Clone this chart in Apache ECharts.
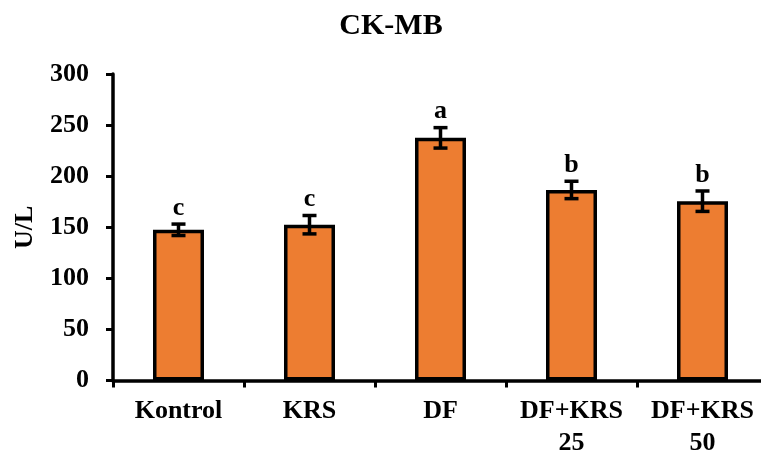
<!DOCTYPE html>
<html><head><meta charset="utf-8">
<script src="https://cdn.jsdelivr.net/npm/echarts@6/dist/echarts.min.js"></script>
<style>html,body{margin:0;padding:0;background:#fff;overflow:hidden}#c{width:770px;height:460px}</style>
</head><body><div id="c"></div>
<script>
var categories = ['Kontrol', 'KRS', 'DF', 'DF+KRS\n25', 'DF+KRS\n50'];
var means = [147.5, 152.5, 237.5, 186.5, 175.5];
var errors = [5.6, 9, 10, 8.5, 10];
var letters = ['c', 'c', 'a', 'b', 'b'];
var yTicks = [0, 50, 100, 150, 200, 250, 300];

var font = 'Liberation Serif';
var chart = echarts.init(document.getElementById('c'));
var errData = means.map(function (m, i) { return [i, m, errors[i]]; });
chart.setOption({
  animation: false,
  title: { text: 'CK-MB', left: 386, textAlign: 'center', top: 6,
    textStyle: { fontFamily: font, fontWeight: 'bold', fontSize: 30, color: '#000' } },
  grid: { left: 113, right: 2, top: 74, bottom: 79.5 },
  xAxis: {
    type: 'category', data: categories,
    axisLine: { lineStyle: { color: '#000', width: 3.5 } },
    axisTick: { show: true, length: 7, lineStyle: { color: '#000', width: 3 } },
    axisLabel: { fontFamily: font, fontWeight: 'bold', fontSize: 26, color: '#000', margin: 15, lineHeight: 32, interval: 0 }
  },
  yAxis: {
    type: 'value', min: 0, max: 300, interval: 50,
    name: 'U/L', nameLocation: 'middle', nameGap: 75, nameRotate: 90,
    nameTextStyle: { fontFamily: font, fontWeight: 'bold', fontSize: 26, color: '#000' },
    splitLine: { show: false },
    axisLine: { show: true, lineStyle: { color: '#000', width: 3.5 } },
    axisTick: { show: true, length: 7, lineStyle: { color: '#000', width: 3 } },
    axisLabel: { fontFamily: font, fontWeight: 'bold', fontSize: 26, color: '#000', margin: 24,
      formatter: function (v) { return yTicks.indexOf(v) >= 0 ? String(v) : ''; } }
  },
  series: [
    { type: 'bar', data: means, barWidth: 51,
      itemStyle: { color: '#ED7D31', borderColor: '#000', borderWidth: 3.5 } },
    { type: 'custom', data: errData, z: 10,
      renderItem: function (params, api) {
        var x = api.value(0), m = api.value(1), e = api.value(2);
        var top = api.coord([x, m + e]), bot = api.coord([x, m - e]);
        var hw = 7;
        var s = { stroke: '#000', lineWidth: 3.5 };
        return { type: 'group', children: [
          { type: 'line', shape: { x1: top[0], y1: top[1], x2: bot[0], y2: bot[1] }, style: s },
          { type: 'line', shape: { x1: top[0] - hw, y1: top[1], x2: top[0] + hw, y2: top[1] }, style: s },
          { type: 'line', shape: { x1: bot[0] - hw, y1: bot[1], x2: bot[0] + hw, y2: bot[1] }, style: s },
          { type: 'text', x: top[0], y: top[1] - 3, style: { text: letters[params.dataIndex],
            fontFamily: font, fontWeight: 'bold', fontSize: 26, fill: '#000', align: 'center', verticalAlign: 'bottom' } }
        ] };
      } }
  ]
});
</script></body></html>
